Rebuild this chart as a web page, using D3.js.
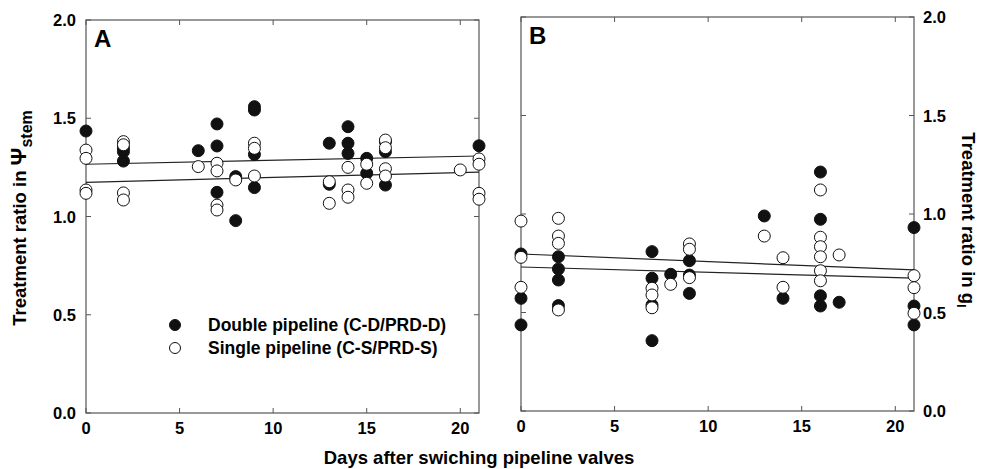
<!DOCTYPE html>
<html>
<head>
<meta charset="utf-8">
<script src="https://cdn.jsdelivr.net/npm/d3@7"></script>
<style>
  body { margin: 0; background: #fff; }
  text { font-family: "Liberation Sans", Arial, sans-serif; font-weight: bold; }
</style>
</head>
<body>
<div id="chart"></div>
<script>
// Panel A: treatment ratio in stem water potential
const dayA_double = [0, 2, 2, 2, 6, 7, 7, 7, 8, 8, 9, 9, 9, 9, 13, 13, 14, 14, 14, 15, 15, 16, 16, 16, 21];
const valA_double = [1.435, 1.347, 1.33, 1.282, 1.335, 1.471, 1.359, 1.123, 1.203, 0.979, 1.559, 1.542, 1.316, 1.147, 1.373, 1.164, 1.457, 1.373, 1.321, 1.296, 1.22, 1.38, 1.33, 1.16, 1.36];
const dayA_single = [0, 0, 0, 0, 2, 2, 2, 2, 6, 7, 7, 7, 7, 8, 9, 9, 9, 13, 13, 14, 14, 14, 15, 15, 16, 16, 16, 16, 20, 21, 21, 21, 21];
const valA_single = [1.338, 1.296, 1.135, 1.118, 1.381, 1.365, 1.12, 1.084, 1.254, 1.271, 1.232, 1.058, 1.033, 1.186, 1.373, 1.347, 1.206, 1.177, 1.067, 1.25, 1.135, 1.098, 1.266, 1.169, 1.389, 1.35, 1.243, 1.206, 1.237, 1.293, 1.266, 1.118, 1.088];

// Panel B: treatment ratio in leaf conductance
const dayB_double = [0, 0, 0, 2, 2, 2, 2, 7, 7, 7, 7, 8, 9, 9, 9, 13, 14, 16, 16, 16, 16, 17, 21, 21, 21];
const valB_double = [0.797, 0.572, 0.437, 0.783, 0.721, 0.665, 0.535, 0.809, 0.674, 0.538, 0.357, 0.694, 0.763, 0.69, 0.597, 0.99, 0.572, 1.213, 0.973, 0.585, 0.533, 0.552, 0.931, 0.533, 0.437];
const dayB_single = [0, 0, 0, 2, 2, 2, 2, 7, 7, 7, 8, 9, 9, 9, 13, 14, 14, 16, 16, 16, 16, 16, 16, 17, 21, 21, 21];
const valB_single = [0.964, 0.78, 0.628, 0.978, 0.888, 0.851, 0.513, 0.623, 0.589, 0.524, 0.643, 0.848, 0.821, 0.677, 0.888, 0.778, 0.628, 1.122, 0.882, 0.834, 0.783, 0.712, 0.661, 0.792, 0.687, 0.626, 0.496];

// fitted lines, values at day 0 and day 21
const fitDays = [0, 21];
const fitA_double = [1.266, 1.308];
const fitA_single = [1.174, 1.226];
const fitB_double = [0.797, 0.716];
const fitB_single = [0.731, 0.674];

const xTicks = [0, 5, 10, 15, 20];
const yTicks = [0, 0.5, 1.0, 1.5, 2.0];

const svg = d3.select("#chart").append("svg")
  .attr("width", 988).attr("height", 469);

const frameColor = "#555";
const r = 6;
const tickFont = 16.5;

function panel(opts) {
  const x = d3.scaleLinear().domain([0, 21]).range([opts.left, opts.right]);
  const y = d3.scaleLinear().domain([0, 2]).range([opts.bottom, opts.top]);
  const g = svg.append("g");

  // frame
  g.append("rect")
    .attr("x", opts.left).attr("y", opts.top)
    .attr("width", opts.right - opts.left).attr("height", opts.bottom - opts.top)
    .attr("fill", "none").attr("stroke", frameColor).attr("stroke-width", 1.2);

  const tl = 5;
  // inward ticks on all sides
  g.selectAll(".xt").data(xTicks).join("line")
    .attr("x1", d => x(d)).attr("x2", d => x(d))
    .attr("y1", opts.bottom).attr("y2", opts.bottom - tl)
    .attr("stroke", frameColor);
  g.selectAll(".xtt").data(xTicks).join("line")
    .attr("x1", d => x(d)).attr("x2", d => x(d))
    .attr("y1", opts.top).attr("y2", opts.top + tl)
    .attr("stroke", frameColor);
  g.selectAll(".yt").data(yTicks).join("line")
    .attr("x1", opts.left).attr("x2", opts.left + tl)
    .attr("y1", d => y(d)).attr("y2", d => y(d))
    .attr("stroke", frameColor);
  g.selectAll(".ytr").data(yTicks).join("line")
    .attr("x1", opts.right).attr("x2", opts.right - tl)
    .attr("y1", d => y(d)).attr("y2", d => y(d))
    .attr("stroke", frameColor);

  // tick labels
  g.selectAll(".xl").data(xTicks).join("text")
    .attr("x", d => x(d)).attr("y", opts.bottom + 21)
    .attr("text-anchor", "middle").attr("font-size", tickFont)
    .text(d => d);
  g.selectAll(".yl").data(yTicks).join("text")
    .attr("x", opts.yLabelSide === "left" ? opts.left - 10 : opts.right + 9)
    .attr("y", d => y(d) + 6)
    .attr("text-anchor", opts.yLabelSide === "left" ? "end" : "start")
    .attr("font-size", tickFont)
    .text(d => d.toFixed(1));

  // panel letter
  g.append("text").attr("x", opts.left + 8).attr("y", opts.top + 27)
    .attr("font-size", 24).text(opts.letter);

  // fit lines
  const line = d3.line().x((d, i) => x(fitDays[i])).y(d => y(d));
  g.append("path").datum(opts.fitDouble).attr("d", line)
    .attr("fill", "none").attr("stroke", "#222").attr("stroke-width", 1.2);
  g.append("path").datum(opts.fitSingle).attr("d", line)
    .attr("fill", "none").attr("stroke", "#222").attr("stroke-width", 1.2);

  // points
  g.selectAll(".pd").data(opts.dayDouble).join("circle")
    .attr("cx", d => x(d)).attr("cy", (d, i) => y(opts.valDouble[i]))
    .attr("r", r).attr("fill", "#111").attr("stroke", "#111").attr("stroke-width", 1);
  g.selectAll(".ps").data(opts.daySingle).join("circle")
    .attr("cx", d => x(d)).attr("cy", (d, i) => y(opts.valSingle[i]))
    .attr("r", r).attr("fill", "#fff").attr("stroke", "#111").attr("stroke-width", 1);
}

panel({
  left: 86, right: 479, top: 20, bottom: 413, letter: "A", yLabelSide: "left",
  dayDouble: dayA_double, valDouble: valA_double,
  daySingle: dayA_single, valSingle: valA_single,
  fitDouble: fitA_double, fitSingle: fitA_single
});
panel({
  left: 521, right: 914, top: 17, bottom: 411, letter: "B", yLabelSide: "right",
  dayDouble: dayB_double, valDouble: valB_double,
  daySingle: dayB_single, valSingle: valB_single,
  fitDouble: fitB_double, fitSingle: fitB_single
});

// legend
const legend = svg.append("g");
const legendItems = [
  { label: "Double pipeline (C-D/PRD-D)", fill: "#111", y: 325 },
  { label: "Single pipeline (C-S/PRD-S)", fill: "#fff", y: 348 }
];
legend.selectAll("circle").data(legendItems).join("circle")
  .attr("cx", 175).attr("cy", d => d.y).attr("r", 5.5)
  .attr("fill", d => d.fill).attr("stroke", "#111");
legend.selectAll("text").data(legendItems).join("text")
  .attr("x", 208).attr("y", d => d.y + 6).attr("font-size", 17.5)
  .text(d => d.label);

// axis titles
svg.append("text").attr("x", 479).attr("y", 464).attr("text-anchor", "middle")
  .attr("font-size", 18.5).text("Days after swiching pipeline valves");

const yl = svg.append("text").attr("transform", "translate(26,218) rotate(-90)")
  .attr("text-anchor", "middle").attr("font-size", 18.5);
yl.append("tspan").text("Treatment ratio in ");
yl.append("tspan").attr("font-size", 22).text("Ψ");
yl.append("tspan").attr("dy", 6).attr("font-size", 16).text("stem");

const yr = svg.append("text").attr("transform", "translate(962,220) rotate(90)")
  .attr("text-anchor", "middle").attr("font-size", 18.5);
yr.append("tspan").text("Treatment ratio in g");
yr.append("tspan").attr("dy", 5).attr("font-size", 13).text("l");
</script>
</body>
</html>
